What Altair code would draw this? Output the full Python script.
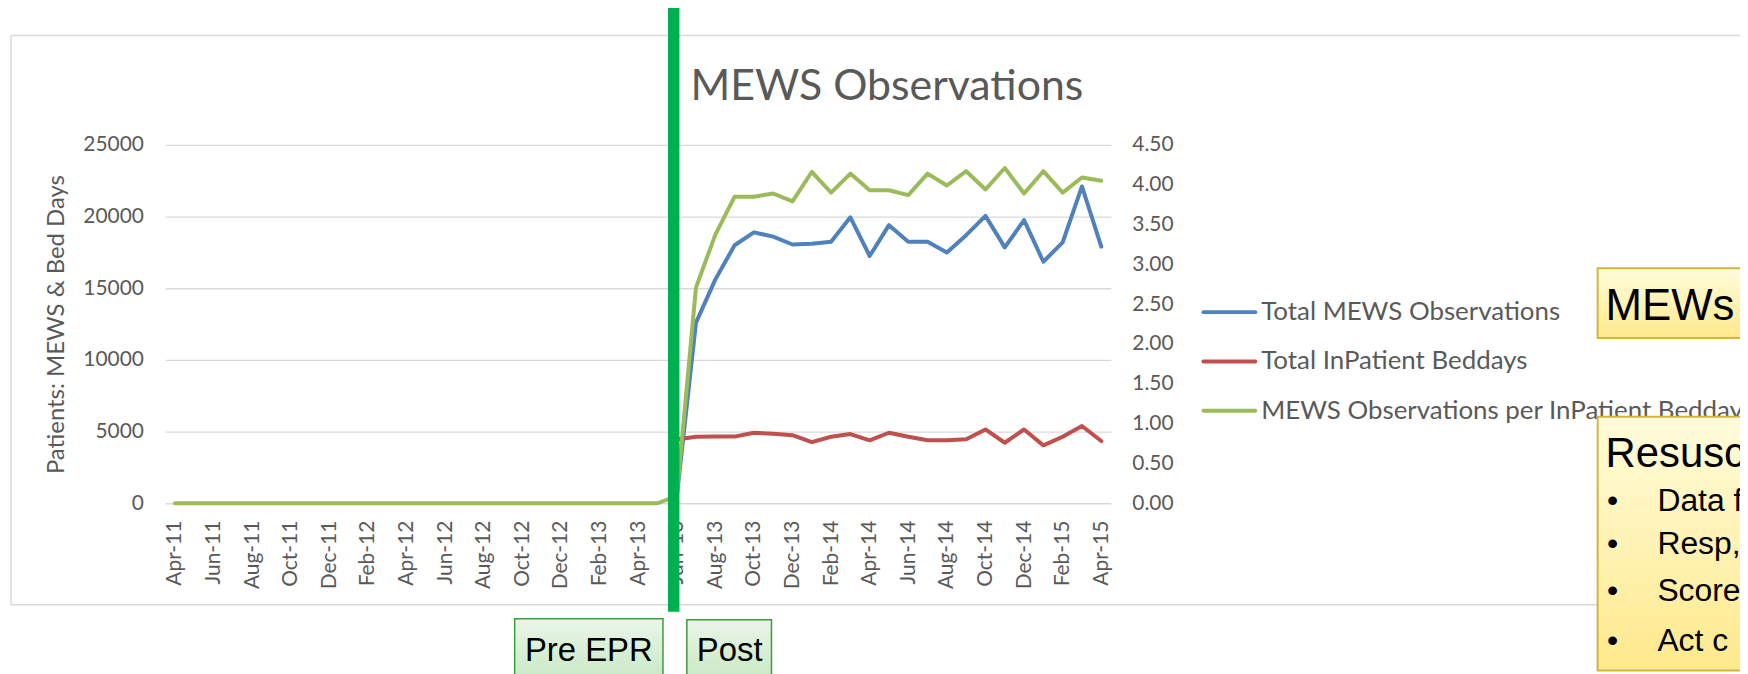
import altair as alt
import pandas as pd

months = ["Apr-11", "May-11", "Jun-11", "Jul-11", "Aug-11", "Sep-11", "Oct-11", "Nov-11", "Dec-11",
          "Jan-12", "Feb-12", "Mar-12", "Apr-12", "May-12", "Jun-12", "Jul-12", "Aug-12", "Sep-12",
          "Oct-12", "Nov-12", "Dec-12", "Jan-13", "Feb-13", "Mar-13", "Apr-13", "May-13", "Jun-13",
          "Jul-13", "Aug-13", "Sep-13", "Oct-13", "Nov-13", "Dec-13", "Jan-14", "Feb-14", "Mar-14",
          "Apr-14", "May-14", "Jun-14", "Jul-14", "Aug-14", "Sep-14", "Oct-14", "Nov-14", "Dec-14",
          "Jan-15", "Feb-15", "Mar-15", "Apr-15"]

tick_labels = ["Apr-11", "Jun-11", "Aug-11", "Oct-11", "Dec-11", "Feb-12", "Apr-12", "Jun-12",
               "Aug-12", "Oct-12", "Dec-12", "Feb-13", "Apr-13", "Jun-13", "Aug-13", "Oct-13",
               "Dec-13", "Feb-14", "Apr-14", "Jun-14", "Aug-14", "Oct-14", "Dec-14", "Feb-15", "Apr-15"]

total_mews = [None, None, None, None, None, None, None, None, None, None, None, None, None,
              None, None, None, None, None, None, None, None, None, None, None, None, None,
              400, 12600, 15600, 18000, 18900, 18600, 18050, 18100, 18250, 19950, 17250, 19400,
              18250, 18250, 17500, 18700, 20050, 17850, 19750, 16850, 18200, 22100, 17900]

beddays = [None, None, None, None, None, None, None, None, None, None, None, None, None,
           None, None, None, None, None, None, None, None, None, None, None, None, None,
           4450, 4640, 4650, 4650, 4920, 4850, 4750, 4270, 4640, 4830, 4390, 4920,
           4640, 4390, 4390, 4460, 5150, 4220, 5150, 4040, 4640, 5390, 4340]

ratio = [0, 0, 0, 0, 0, 0, 0, 0, 0, 0, 0, 0, 0,
         0, 0, 0, 0, 0, 0, 0, 0, 0, 0, 0, 0, 0,
         0.09, 2.71, 3.37, 3.85, 3.85, 3.89, 3.79, 4.16, 3.90, 4.14, 3.93, 3.93,
         3.87, 4.14, 3.99, 4.17, 3.94, 4.21, 3.89, 4.17, 3.90, 4.09, 4.05]

series_names = ["Total MEWS Observations", "Total InPatient Beddays",
                "MEWS Observations per InPatient Bedday"]
series_colors = ["#4F81BD", "#C0504D", "#9BBB59"]

left_ticks = [0, 5000, 10000, 15000, 20000, 25000]
right_ticks = [0, 0.5, 1.0, 1.5, 2.0, 2.5, 3.0, 3.5, 4.0, 4.5]

GREY = "#595959"
FONT = "Lato"
BOXFONT = "Liberation Sans"

left_df = pd.DataFrame({
    "month": months + months,
    "series": [series_names[0]] * len(months) + [series_names[1]] * len(months),
    "value": total_mews + beddays,
})
right_df = pd.DataFrame({"month": months, "series": series_names[2], "ratio": ratio})
legend_df = pd.DataFrame({"series": series_names, "idx": [0, 1, 2]})
marker_df = pd.DataFrame({"month": ["Jun-13"]})
one = pd.DataFrame({"a": [0]})

color_enc = alt.Color("series:N", scale=alt.Scale(domain=series_names, range=series_colors), legend=None)

x_enc = alt.X("month:N",
              scale=alt.Scale(type="point", domain=months, padding=0.5),
              axis=alt.Axis(values=tick_labels, labelAngle=270, labelFont=FONT, labelFontSize=21,
                            labelColor=GREY, labelPadding=17, ticks=False, domain=False,
                            grid=False, title=None))

border = alt.Chart(one).mark_rect(fill="white", fillOpacity=0, stroke="#D9D9D9", strokeWidth=1.5).encode(
    x=alt.value(-155), x2=alt.value(1650), y=alt.value(-110), y2=alt.value(462))

lines_left = alt.Chart(left_df).mark_line(strokeWidth=4, strokeCap="round", strokeJoin="round").encode(
    x=x_enc,
    y=alt.Y("value:Q", scale=alt.Scale(domain=[0, 25000]),
            axis=alt.Axis(orient="left", values=left_ticks, format="d", labelFont=FONT, labelFontSize=21,
                          labelColor=GREY, labelPadding=22, ticks=False, domain=False,
                          gridColor="#D9D9D9", gridWidth=1.3,
                          title="Patients: MEWS & Bed Days", titleFont=FONT, titleFontSize=24,
                          titleColor=GREY, titleFontWeight="normal", titlePadding=14)),
    color=color_enc,
)

lines_right = alt.Chart(right_df).mark_line(strokeWidth=4, strokeCap="round", strokeJoin="round").encode(
    x=x_enc,
    y=alt.Y("ratio:Q", scale=alt.Scale(domain=[0, 4.5]),
            axis=alt.Axis(orient="right", values=right_ticks, format=".2f", labelFont=FONT,
                          labelFontSize=21, labelColor=GREY, labelPadding=21, ticks=False,
                          domain=False, grid=False, title=None)),
    color=color_enc,
)

epr_bar = alt.Chart(marker_df).mark_rule(color="#00B050", strokeWidth=11.5, xOffset=-3).encode(
    x=x_enc, y=alt.value(-138), y2=alt.value(469))

leg_y = alt.Y("idx:Q", scale=alt.Scale(domain=[0, 2], range=[168, 267]), axis=None)
legend_rules = alt.Chart(legend_df).mark_rule(strokeWidth=4, strokeCap="round").encode(
    x=alt.value(1043), x2=alt.value(1095), y=leg_y, color=color_enc)
legend_text = alt.Chart(legend_df).mark_text(align="left", baseline="alphabetic", dy=8, font=FONT,
                                             fontSize=26, color=GREY).encode(
    x=alt.value(1101), y=leg_y, text="series:N")

title = alt.Chart(one).mark_text(text="MEWS Observations", font=FONT, fontSize=43, color=GREY,
                                 align="center", baseline="alphabetic").encode(
    x=alt.value(725), y=alt.value(-45))


def grad(c0, c1):
    return alt.LinearGradient(gradient="linear", x1=0, x2=0, y1=0, y2=1,
                              stops=[alt.GradientStop(color=c0, offset=0),
                                     alt.GradientStop(color=c1, offset=1)])


def box(x0, x1, y0, y1, fill, stroke, sw):
    return alt.Chart(one).mark_rect(fill=fill, stroke=stroke, strokeWidth=sw).encode(
        x=alt.value(x0), x2=alt.value(x1), y=alt.value(y0), y2=alt.value(y1))


def label(txt, x, y, size, align="left"):
    return alt.Chart(one).mark_text(text=txt, font=BOXFONT, fontSize=size, color="black",
                                    align=align, baseline="alphabetic").encode(
        x=alt.value(x), y=alt.value(y))


green_fill = grad("#EAF6E8", "#BDE3B7")
yellow_fill = grad("#FFFCDC", "#FFE98C")

annotations = [
    box(351, 500, 476, 560, green_fill, "#3C9C3C", 1.5),
    label("Pre EPR", 425.5, 518, 33, "center"),
    box(524, 609, 477, 560, green_fill, "#3C9C3C", 1.5),
    label("Post", 567, 518, 33, "center"),
    box(1439, 1650, 124, 194, yellow_fill, "#D4B53C", 2),
    label("MEWs", 1447, 176, 44),
    box(1439, 1650, 273, 528, yellow_fill, "#D4B53C", 2),
    label("Resusc", 1447, 324, 42),
    label("•", 1454, 368, 32, "center"),
    label("•", 1454, 411, 32, "center"),
    label("•", 1454, 458, 32, "center"),
    label("•", 1454, 508, 32, "center"),
    label("Data f", 1499, 368, 32),
    label("Resp,", 1499, 411, 32),
    label("Score", 1499, 458, 32),
    label("Act c", 1499, 508, 32),
]

chart = alt.layer(
    border, lines_left, lines_right, epr_bar, legend_rules, legend_text, title, *annotations
).resolve_scale(y="independent").properties(
    width=950, height=360,
    autosize=alt.AutoSizeParams(type="none"),
    padding={"left": 158, "top": 136, "right": 632, "bottom": 170},
    background="white",
).configure_view(stroke=None)

chart.save("out.html", embed_options={"renderer": "svg", "actions": False})
